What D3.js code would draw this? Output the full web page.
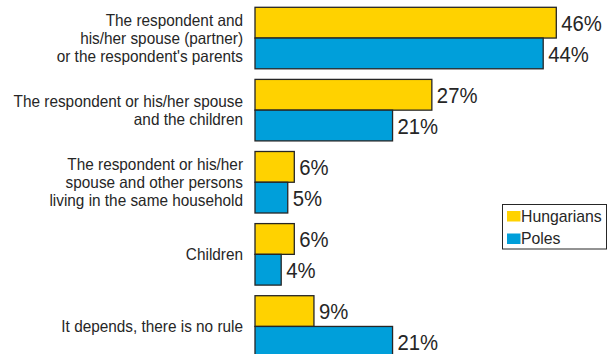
<!DOCTYPE html>
<html>
<head>
<meta charset="utf-8">
<script src="https://cdn.jsdelivr.net/npm/d3@7"></script>
<style>
  html, body { margin: 0; padding: 0; background: #fff; }
  svg { display: block; font-family: "Liberation Sans", Arial, sans-serif; }
</style>
</head>
<body>
<svg id="chart" width="607" height="354"></svg>
<script>
// Who decides on household matters — survey shares (%)
const categories = [
  ["The respondent and", "his/her spouse (partner)", "or the respondent's parents"],
  ["The respondent or his/her spouse", "and the children"],
  ["The respondent or his/her", "spouse and other persons", "living in the same household"],
  ["Children"],
  ["It depends, there is no rule"]
];
const seriesNames = ["Hungarians", "Poles"];
const hungarians = [46, 27, 6, 6, 9];
const poles = [44, 21, 5, 4, 21];

const colors = { Hungarians: "#FFD200", Poles: "#009FDA" };
const ink = "#262626";
const stretch = 1.1; // slightly tall lettering

const svg = d3.select("#chart");

const rows = categories.map((lines, i) => ({
  key: i,
  lines,
  values: [
    { series: "Hungarians", value: hungarians[i] },
    { series: "Poles", value: poles[i] }
  ]
}));

const x = d3.scaleLinear().domain([0, 50]).range([255, 582.5]);

const y = d3.scaleBand()
  .domain(rows.map(d => d.key))
  .range([2, 362.5])
  .paddingInner(0.147)
  .paddingOuter(0.0735);

const ySub = d3.scaleBand()
  .domain(seriesNames)
  .range([0, y.bandwidth()]);

const groups = svg.append("g")
  .selectAll("g.row")
  .data(rows)
  .join("g")
  .attr("class", "row")
  .attr("transform", d => `translate(0,${y(d.key)})`);

groups.selectAll("rect")
  .data(d => d.values)
  .join("rect")
  .attr("x", x(0))
  .attr("y", d => ySub(d.series))
  .attr("width", d => x(d.value) - x(0))
  .attr("height", ySub.bandwidth())
  .attr("fill", d => colors[d.series])
  .attr("stroke", ink)
  .attr("stroke-width", 1.3);

groups.selectAll("text.value")
  .data(d => d.values)
  .join("text")
  .attr("class", "value")
  .attr("transform", d =>
    `translate(${x(d.value) + 5},${ySub(d.series) + ySub.bandwidth() / 2 + 8.3}) scale(1,${stretch})`)
  .attr("font-size", 20.3)
  .attr("fill", ink)
  .text(d => d.value + "%");

// Category labels, centred on their pair of bars
const lineGap = 18;
groups.each(function(d) {
  const g = d3.select(this);
  const n = d.lines.length;
  const cy = y.bandwidth() / 2;
  d.lines.forEach((line, j) => {
    g.append("text")
      .attr("class", "cat")
      .attr("text-anchor", "end")
      .attr("font-size", 15.35)
      .attr("fill", ink)
      .attr("transform",
        `translate(243,${cy + (j - (n - 1) / 2) * lineGap + 6}) scale(1,${stretch})`)
      .text(line);
  });
});

// Legend
const legend = svg.append("g");
legend.append("rect")
  .attr("x", 502.5).attr("y", 204.5)
  .attr("width", 104).attr("height", 44.5)
  .attr("fill", "#fff")
  .attr("stroke", ink)
  .attr("stroke-width", 1);

const items = legend.selectAll("g.item")
  .data(seriesNames)
  .join("g")
  .attr("class", "item")
  .attr("transform", (d, i) => `translate(507,${211 + i * 22.5})`);

items.append("rect")
  .attr("width", 13.5).attr("height", 10.5)
  .attr("fill", d => colors[d]);

items.append("text")
  .attr("transform", `translate(14,10.8) scale(1,1.06)`)
  .attr("font-size", 15.8)
  .attr("fill", ink)
  .text(d => d);
</script>
</body>
</html>
